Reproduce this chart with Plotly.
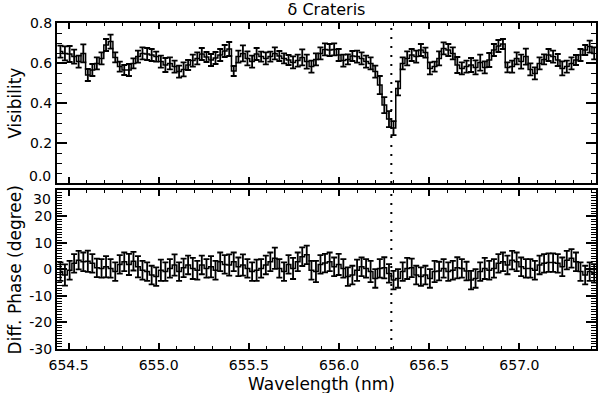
import plotly.graph_objects as go

# wavelength channels (nm)
wavelength = [
    654.455, 654.480, 654.506, 654.531, 654.556, 654.582, 654.607, 654.632, 654.657, 654.683,
    654.708, 654.733, 654.759, 654.784, 654.809, 654.835, 654.860, 654.885, 654.910, 654.936,
    654.961, 654.986, 655.012, 655.037, 655.062, 655.088, 655.113, 655.138, 655.163, 655.189,
    655.214, 655.239, 655.265, 655.290, 655.315, 655.341, 655.366, 655.391, 655.416, 655.442,
    655.467, 655.492, 655.518, 655.543, 655.568, 655.594, 655.619, 655.644, 655.669, 655.695,
    655.720, 655.745, 655.771, 655.796, 655.821, 655.847, 655.872, 655.897, 655.922, 655.948,
    655.973, 655.998, 656.024, 656.049, 656.074, 656.100, 656.125, 656.150, 656.175, 656.201,
    656.226, 656.251, 656.277, 656.302, 656.327, 656.353, 656.378, 656.403, 656.428, 656.454,
    656.479, 656.504, 656.530, 656.555, 656.580, 656.606, 656.631, 656.656, 656.681, 656.707,
    656.732, 656.757, 656.783, 656.808, 656.833, 656.859, 656.884, 656.909, 656.934, 656.960,
    656.985, 657.010, 657.036, 657.061, 657.086, 657.112, 657.137, 657.162, 657.187, 657.213,
    657.238, 657.263, 657.289, 657.314, 657.339, 657.365, 657.390, 657.415,
]

visibility = [
    0.657, 0.648, 0.645, 0.632, 0.607, 0.648, 0.540, 0.565, 0.598, 0.623,
    0.690, 0.707, 0.628, 0.582, 0.565, 0.565, 0.598, 0.632, 0.648, 0.645,
    0.640, 0.632, 0.607, 0.590, 0.598, 0.582, 0.557, 0.568, 0.590, 0.612,
    0.623, 0.645, 0.630, 0.615, 0.625, 0.640, 0.660, 0.670, 0.560, 0.632,
    0.648, 0.623, 0.607, 0.645, 0.632, 0.623, 0.632, 0.648, 0.635, 0.623,
    0.615, 0.603, 0.612, 0.628, 0.607, 0.582, 0.618, 0.648, 0.668, 0.665,
    0.668, 0.640, 0.612, 0.618, 0.635, 0.632, 0.623, 0.607, 0.598, 0.557,
    0.490, 0.390, 0.320, 0.275, 0.473, 0.598, 0.623, 0.640, 0.632, 0.665,
    0.652, 0.573, 0.582, 0.623, 0.673, 0.665, 0.648, 0.590, 0.573, 0.582,
    0.590, 0.578, 0.602, 0.578, 0.615, 0.665, 0.685, 0.695, 0.578, 0.582,
    0.623, 0.607, 0.632, 0.568, 0.548, 0.598, 0.618, 0.640, 0.632, 0.615,
    0.573, 0.582, 0.598, 0.615, 0.640, 0.665, 0.682, 0.648,
]

visibility_err = [
    0.030, 0.035, 0.040, 0.035, 0.030, 0.045, 0.030, 0.030, 0.030, 0.030,
    0.030, 0.035, 0.025, 0.025, 0.025, 0.030, 0.025, 0.030, 0.030, 0.030,
    0.030, 0.025, 0.030, 0.035, 0.030, 0.030, 0.030, 0.035, 0.025, 0.030,
    0.030, 0.030, 0.025, 0.030, 0.030, 0.030, 0.030, 0.035, 0.025, 0.030,
    0.040, 0.035, 0.030, 0.030, 0.025, 0.030, 0.025, 0.030, 0.025, 0.025,
    0.025, 0.030, 0.030, 0.040, 0.035, 0.030, 0.030, 0.030, 0.030, 0.030,
    0.030, 0.030, 0.030, 0.025, 0.025, 0.030, 0.030, 0.030, 0.030, 0.030,
    0.045, 0.040, 0.040, 0.035, 0.035, 0.030, 0.035, 0.030, 0.030, 0.030,
    0.025, 0.030, 0.025, 0.035, 0.030, 0.030, 0.030, 0.040, 0.030, 0.030,
    0.035, 0.035, 0.040, 0.030, 0.035, 0.030, 0.030, 0.025, 0.025, 0.030,
    0.030, 0.035, 0.040, 0.030, 0.030, 0.030, 0.025, 0.030, 0.030, 0.030,
    0.035, 0.030, 0.030, 0.025, 0.030, 0.025, 0.030, 0.030,
]

diff_phase = [
    -0.8, -2.1, -0.3, 2.3, 3.5, 2.9, 3.1, 2.3, 0.6, 0.4,
    1.0, 0.4, -0.8, 1.9, 2.9, 1.9, 3.1, 1.0, -0.3, -0.8,
    -2.1, -2.7, -0.3, -0.8, 0.4, 1.7, -0.8, 0.6, 1.7, 0.4,
    -0.3, 1.7, 0.4, 1.0, -0.3, 2.9, 1.9, 1.7, 2.9, 1.0,
    1.7, 0.4, -0.8, -0.3, 0.4, 1.7, 2.9, 4.2, 0.4, -0.8,
    1.9, 0.4, 2.9, 4.8, 5.5, -0.3, -0.8, 1.9, 2.4, 2.9,
    1.0, 1.9, 0.4, -2.7, -2.1, -0.3, 1.0, 0.4, -0.8, -3.4,
    0.4, 0.6, -1.5, -4.0, -3.4, -0.8, 0.4, 0.6, -2.1, -2.7,
    -2.1, -3.4, -0.8, -0.6, 0.4, -0.8, -0.3, 0.6, 0.4, -0.6,
    -4.0, -3.4, -0.8, 0.4, -0.3, 0.4, 2.3, 2.9, 1.7, 3.5,
    2.9, 1.0, 0.4, 0.4, -0.3, 1.7, 2.3, 2.6, 2.6, 2.3,
    1.0, 3.5, 4.2, 2.9, -0.8, -2.1, -0.8, -1.5,
]

diff_phase_err = [
    3.5, 4.0, 3.5, 3.5, 3.5, 3.5, 4.0, 3.5, 3.5, 3.5,
    4.0, 3.5, 3.5, 3.5, 3.5, 4.0, 3.5, 4.0, 3.5, 3.5,
    3.5, 3.5, 4.0, 3.5, 3.5, 4.0, 3.5, 3.5, 3.5, 4.0,
    3.5, 3.5, 3.5, 4.0, 3.5, 3.5, 3.5, 4.0, 3.5, 3.5,
    4.0, 3.5, 3.5, 4.0, 3.5, 3.5, 3.5, 4.0, 3.5, 3.5,
    3.5, 4.0, 3.5, 3.5, 3.5, 3.5, 4.0, 3.5, 3.5, 3.5,
    3.5, 4.0, 3.5, 3.5, 3.5, 4.0, 3.5, 3.5, 4.0, 3.5,
    3.5, 4.0, 3.5, 3.5, 3.5, 3.5, 4.0, 3.5, 3.5, 3.5,
    3.5, 3.5, 4.0, 3.5, 3.5, 3.5, 3.5, 4.0, 3.5, 3.5,
    3.5, 3.5, 3.5, 4.0, 3.5, 3.5, 3.5, 3.5, 3.5, 3.5,
    3.5, 3.5, 3.5, 3.5, 3.5, 3.5, 3.5, 3.5, 3.5, 3.5,
    3.5, 3.5, 3.5, 3.5, 3.5, 3.5, 3.5, 3.5,
]

vis_ticks = [0.2, 0.4, 0.6, 0.8]
phase_ticks = [-30, -20, -10, 0, 10, 20]

h_alpha = 656.29
FONT = "DejaVu Sans"

fig = go.Figure()

fig.add_trace(go.Scatter(
    x=wavelength, y=visibility, mode="lines", line_shape="hvh",
    line=dict(color="black", width=1.5),
    error_y=dict(type="data", array=visibility_err, color="black", thickness=1.8, width=3),
    xaxis="x", yaxis="y", showlegend=False,
))
fig.add_trace(go.Scatter(
    x=wavelength, y=diff_phase, mode="lines", line_shape="hvh",
    line=dict(color="black", width=1.5),
    error_y=dict(type="data", array=diff_phase_err, color="black", thickness=1.8, width=3),
    xaxis="x2", yaxis="y2", showlegend=False,
))

# dotted line at the line centre in both panels
fig.add_shape(type="line", x0=h_alpha, x1=h_alpha, y0=0, y1=1, xref="x", yref="y domain",
              line=dict(color="black", width=2, dash="2px,7px"))
fig.add_shape(type="line", x0=h_alpha, x1=h_alpha, y0=0, y1=1, xref="x2", yref="y2 domain",
              line=dict(color="black", width=2, dash="2px,7px"))

xcommon = dict(
    range=[654.436, 657.425], showline=True, linecolor="black", linewidth=2,
    mirror="allticks", ticks="inside", ticklen=6, tickwidth=1.5, tickcolor="black",
    dtick=0.5, tick0=654.5, tickformat=".1f", showgrid=False, zeroline=False,
    minor=dict(ticks="inside", dtick=0.1, ticklen=3, tickcolor="black", tickwidth=1),
)
ycommon = dict(
    showline=True, linecolor="black", linewidth=2, mirror="allticks",
    ticks="inside", ticklen=10, tickwidth=1.5, tickcolor="black",
    showgrid=False, zeroline=False,
)

fig.update_layout(
    width=600, height=393,
    margin=dict(l=57, r=2, t=23, b=44),
    plot_bgcolor="white", paper_bgcolor="white",
    font=dict(family=FONT, size=14, color="black"),
    title=dict(text="δ Crateris", x=0.5, xref="paper", y=0.975, yref="container",
               yanchor="middle", font=dict(family=FONT, size=16, color="black")),
    xaxis=dict(xcommon, anchor="y", showticklabels=False),
    xaxis2=dict(xcommon, anchor="y2", matches="x", ticklabelstandoff=2),
    yaxis=dict(ycommon, domain=[0.509, 1.0], range=[0, 0.8],
               tickvals=[0.0] + vis_ticks, ticktext=[""] + [f"{v:.1f}" for v in vis_ticks],
               minor=dict(ticks="inside", dtick=0.05, ticklen=5, tickcolor="black", tickwidth=1)),
    yaxis2=dict(ycommon, domain=[0.0, 0.488], range=[-30, 30],
                tickvals=phase_ticks + [30], ticktext=[str(v) for v in phase_ticks] + [""],
                minor=dict(ticks="inside", dtick=1, ticklen=5, tickcolor="black", tickwidth=1)),
    annotations=[
        # end labels nudged inside the panels, as in the original
        dict(text="0.0", x=0, y=0, xref="paper", yref="y", xanchor="right", yanchor="bottom",
             xshift=-4, yshift=-3, showarrow=False, font=dict(family=FONT, size=14)),
        dict(text="30", x=0, y=30, xref="paper", yref="y2", xanchor="right", yanchor="top",
             xshift=-4, yshift=1, showarrow=False, font=dict(family=FONT, size=14)),
        dict(text="Visibility", x=-0.078, y=0.755, xref="paper", yref="paper",
             xanchor="center", yanchor="middle",
             textangle=-90, showarrow=False, font=dict(family=FONT, size=17)),
        dict(text="Diff. Phase (degree)", x=-0.078, y=0.244, xref="paper", yref="paper",
             xanchor="center", yanchor="middle",
             textangle=-90, showarrow=False, font=dict(family=FONT, size=17)),
        dict(text="Wavelength (nm)", x=0.49, y=-0.106, xref="paper", yref="paper",
             xanchor="center", yanchor="middle",
             showarrow=False, font=dict(family=FONT, size=17)),
    ],
)

fig.write_html("out.html", config={"displayModeBar": False},
               post_script="document.body.style.margin='0';")
